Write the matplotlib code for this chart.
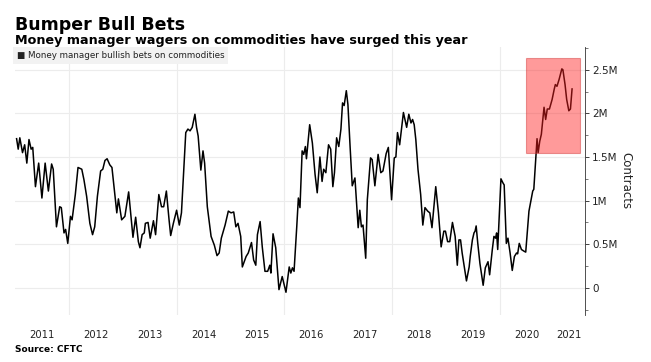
import matplotlib
matplotlib.use("Agg")
import matplotlib.pyplot as plt
from matplotlib.patches import Rectangle
from matplotlib.ticker import FuncFormatter, MultipleLocator

# weekly money-manager net long on commodities (decimal year, million contracts)
week = [
    2011.03, 2011.06, 2011.09, 2011.14, 2011.18, 2011.22, 2011.26, 2011.30, 2011.33, 2011.38,
    2011.44, 2011.50, 2011.56, 2011.62, 2011.68, 2011.71, 2011.77, 2011.83, 2011.86, 2011.91,
    2011.94, 2011.98, 2012.03, 2012.06, 2012.12, 2012.17, 2012.24, 2012.28, 2012.33, 2012.39,
    2012.44, 2012.48, 2012.53, 2012.59, 2012.63, 2012.67, 2012.71, 2012.76, 2012.80, 2012.89,
    2012.92, 2012.98, 2013.04, 2013.11, 2013.19, 2013.24, 2013.29, 2013.32, 2013.36, 2013.40,
    2013.42, 2013.47, 2013.51, 2013.57, 2013.61, 2013.67, 2013.72, 2013.76, 2013.81, 2013.86,
    2013.89, 2013.94, 2014.00, 2014.05, 2014.09, 2014.17, 2014.21, 2014.25, 2014.29, 2014.34,
    2014.37, 2014.40, 2014.45, 2014.49, 2014.52, 2014.57, 2014.64, 2014.70, 2014.75, 2014.79,
    2014.83, 2014.90, 2014.96, 2015.01, 2015.06, 2015.10, 2015.14, 2015.19, 2015.22, 2015.29,
    2015.33, 2015.39, 2015.43, 2015.47, 2015.50, 2015.55, 2015.59, 2015.64, 2015.69, 2015.73,
    2015.75, 2015.79, 2015.84, 2015.90, 2015.96, 2016.03, 2016.09, 2016.12, 2016.15, 2016.18,
    2016.23, 2016.26, 2016.29, 2016.33, 2016.36, 2016.39, 2016.41, 2016.47, 2016.52, 2016.57,
    2016.61, 2016.66, 2016.70, 2016.73, 2016.77, 2016.82, 2016.86, 2016.90, 2016.93, 2016.97,
    2017.01, 2017.05, 2017.08, 2017.11, 2017.15, 2017.18, 2017.22, 2017.26, 2017.31, 2017.37,
    2017.40, 2017.43, 2017.46, 2017.51, 2017.54, 2017.60, 2017.63, 2017.68, 2017.74, 2017.79,
    2017.83, 2017.89, 2017.93, 2017.99, 2018.04, 2018.07, 2018.10, 2018.14, 2018.21, 2018.27,
    2018.31, 2018.35, 2018.38, 2018.41, 2018.44, 2018.48, 2018.53, 2018.57, 2018.61, 2018.66,
    2018.70, 2018.74, 2018.81, 2018.86, 2018.91, 2018.96, 2018.99, 2019.03, 2019.07, 2019.12,
    2019.17, 2019.21, 2019.24, 2019.27, 2019.30, 2019.34, 2019.38, 2019.43, 2019.45, 2019.49,
    2019.52, 2019.54, 2019.56, 2019.59, 2019.63, 2019.69, 2019.73, 2019.78, 2019.81, 2019.86,
    2019.89, 2019.92, 2019.94, 2019.96, 2020.02, 2020.06, 2020.08, 2020.12, 2020.15, 2020.19,
    2020.23, 2020.27, 2020.31, 2020.33, 2020.36, 2020.40, 2020.45, 2020.48, 2020.54, 2020.58,
    2020.61, 2020.63, 2020.66, 2020.69, 2020.71, 2020.74, 2020.77, 2020.82, 2020.85, 2020.88,
    2020.92, 2020.97, 2021.01, 2021.03, 2021.06, 2021.10, 2021.15, 2021.17, 2021.21, 2021.24,
    2021.28, 2021.31, 2021.34,
]
bets_m = [
    1.71, 1.59, 1.72, 1.55, 1.64, 1.43, 1.70, 1.59, 1.61, 1.16,
    1.43, 1.03, 1.43, 1.11, 1.42, 1.36, 0.70, 0.93, 0.92, 0.63,
    0.67, 0.51, 0.82, 0.78, 1.07, 1.38, 1.36, 1.24, 1.05, 0.74,
    0.61, 0.70, 1.05, 1.34, 1.36, 1.46, 1.48, 1.41, 1.38, 0.86,
    1.02, 0.78, 0.82, 1.10, 0.58, 0.81, 0.53, 0.46, 0.61, 0.63,
    0.74, 0.75, 0.57, 0.77, 0.61, 1.07, 0.93, 0.93, 1.11, 0.78,
    0.60, 0.74, 0.89, 0.72, 0.86, 1.78, 1.82, 1.80, 1.84, 1.99,
    1.84, 1.74, 1.35, 1.57, 1.43, 0.93, 0.59, 0.49, 0.37, 0.40,
    0.57, 0.72, 0.88, 0.86, 0.87, 0.70, 0.74, 0.59, 0.24, 0.36,
    0.40, 0.52, 0.32, 0.26, 0.61, 0.76, 0.47, 0.19, 0.19, 0.26,
    0.17, 0.62, 0.46, -0.02, 0.13, -0.05, 0.24, 0.17, 0.23, 0.19,
    0.70, 1.03, 0.92, 1.57, 1.53, 1.62, 1.48, 1.87, 1.66, 1.30,
    1.09, 1.50, 1.22, 1.36, 1.32, 1.64, 1.59, 1.16, 1.32, 1.72,
    1.62, 1.82, 2.12, 2.09, 2.26, 2.10, 1.62, 1.17, 1.26, 0.69,
    0.89, 0.70, 0.72, 0.34, 1.01, 1.49, 1.47, 1.17, 1.53, 1.32,
    1.34, 1.54, 1.61, 1.01, 1.49, 1.50, 1.78, 1.64, 2.01, 1.84,
    1.99, 1.89, 1.93, 1.87, 1.70, 1.36, 1.07, 0.72, 0.92, 0.88,
    0.86, 0.69, 1.16, 0.86, 0.47, 0.65, 0.65, 0.53, 0.53, 0.75,
    0.59, 0.26, 0.55, 0.55, 0.40, 0.24, 0.08, 0.24, 0.36, 0.55,
    0.63, 0.65, 0.71, 0.51, 0.28, 0.03, 0.23, 0.30, 0.15, 0.44,
    0.59, 0.57, 0.63, 0.44, 1.25, 1.20, 1.18, 0.51, 0.57, 0.40,
    0.20, 0.36, 0.40, 0.39, 0.51, 0.44, 0.42, 0.41, 0.88, 1.01,
    1.11, 1.13, 1.43, 1.71, 1.55, 1.68, 1.76, 2.07, 1.93, 2.05,
    2.05, 2.16, 2.28, 2.33, 2.31, 2.39, 2.51, 2.50, 2.33, 2.16,
    2.03, 2.05, 2.28,
]

years = list(range(2011, 2022))
x_end = 2021.58
# highlight box (time span, value span)
box_x = (2020.48, 2021.49)
box_y = (1.55, 2.64)

fig = plt.figure(figsize=(6.51, 3.62), dpi=100)
ax = fig.add_axes([0.023, 0.130, 0.8756, 0.740])

ax.plot(week, bets_m, color="black", lw=1.1, zorder=3)

ax.add_patch(Rectangle((box_x[0], box_y[0]), box_x[1] - box_x[0], box_y[1] - box_y[0],
                       facecolor="#ff2020", alpha=0.45, edgecolor="#d03030", lw=0.8, zorder=4))

ax.set_xlim(2011.0, x_end)
ax.set_ylim(-0.31, 2.76)

# year labels centred in each year, gridlines every other January
centres = [(y + min(y + 1, x_end)) / 2 for y in years]
ax.set_xticks(centres)
ax.set_xticklabels([str(y) for y in years], fontsize=7.2, color="#222222")
ax.tick_params(axis="x", length=0, pad=10.5)
for y in range(2012, 2021, 2):
    ax.axvline(y, color="#ececec", lw=0.8, zorder=0)

ax.yaxis.tick_right()
ax.yaxis.set_label_position("right")
ax.yaxis.set_major_locator(MultipleLocator(0.5))
ax.yaxis.set_minor_locator(MultipleLocator(0.25))
ax.yaxis.set_major_formatter(FuncFormatter(lambda v, p: "0" if abs(v) < 1e-9 else f"{v:g}M"))
ax.tick_params(axis="y", which="major", length=3, width=0.6, labelsize=7.5, pad=2, colors="#222222")
ax.tick_params(axis="y", which="minor", length=2, width=0.5, colors="#444444")
ax.grid(axis="y", which="major", color="#ececec", lw=0.8, zorder=0)
ax.set_ylabel("Contracts", fontsize=8.5, rotation=270, labelpad=11, color="#222222")

for s in ["top", "left", "bottom"]:
    ax.spines[s].set_visible(False)
ax.spines["right"].set_color("#333333")
ax.spines["right"].set_linewidth(0.6)

ax.text(0.003, 0.985, "\u25a0 Money manager bullish bets on commodities", transform=ax.transAxes,
        fontsize=6.3, va="top", ha="left", color="#222222", zorder=5,
        bbox=dict(boxstyle="square,pad=0.45", facecolor="#f2f2f2", edgecolor="none"))

fig.text(0.023, 0.955, "Bumper Bull Bets", fontsize=12.5, fontweight="bold", va="top")
fig.text(0.023, 0.905, "Money manager wagers on commodities have surged this year",
         fontsize=9.2, fontweight="bold", va="top")
fig.text(0.023, 0.035, "Source: CFTC", fontsize=6.5, fontweight="bold", va="center")

fig.savefig("out.png", dpi=100)
